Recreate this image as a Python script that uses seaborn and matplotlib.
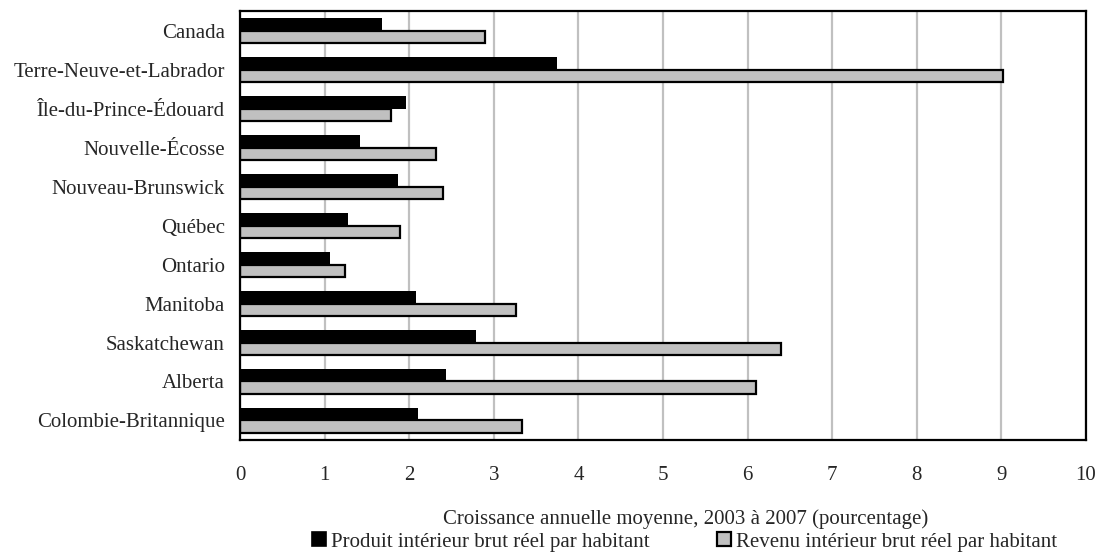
import matplotlib
matplotlib.use("Agg")
import matplotlib.pyplot as plt
import seaborn as sns
import pandas as pd
from matplotlib.patches import Patch

regions = ["Canada", "Terre-Neuve-et-Labrador", "Île-du-Prince-Édouard", "Nouvelle-Écosse",
           "Nouveau-Brunswick", "Québec", "Ontario", "Manitoba", "Saskatchewan", "Alberta",
           "Colombie-Britannique"]
pib = [1.68, 3.75, 1.96, 1.42, 1.87, 1.28, 1.06, 2.08, 2.79, 2.43, 2.10]
rib = [2.90, 9.02, 1.78, 2.32, 2.40, 1.89, 1.24, 3.26, 6.39, 6.10, 3.33]
series = ["Produit intérieur brut réel par habitant", "Revenu intérieur brut réel par habitant"]
xlabel = "Croissance annuelle moyenne, 2003 à 2007 (pourcentage)"
xticks = list(range(0, 11))

df = pd.DataFrame({
    "region": regions * 2,
    "value": pib + rib,
    "serie": [series[0]] * len(regions) + [series[1]] * len(regions),
})

sns.set_style("white")
plt.rcParams["font.family"] = ["Liberation Serif", "DejaVu Serif"]
plt.rcParams["font.size"] = 15

fig = plt.figure(figsize=(10.97, 5.54), dpi=100)
ax = fig.add_axes([0.2188, 0.2058, 0.7712, 0.7742])

colors = ["#000000", "#c0c0c0"]
sns.barplot(data=df, y="region", x="value", hue="serie", order=regions, hue_order=series,
            palette=colors, orient="h", width=0.62, ax=ax, legend=False, saturation=1)

n = len(regions)
for i, p in enumerate(ax.patches[:2 * n]):
    p.set_edgecolor("black")
    p.set_linewidth(0 if i < n else 1.6)

ax.set_xlim(0, 10)
ax.set_xticks(xticks)
ax.set_xticklabels([str(t) for t in xticks])
ax.set_ylim(n - 0.5, -0.5)
ax.set_ylabel("")
ax.set_xlabel(xlabel, labelpad=17)
ax.xaxis.label.set_x(0.527)
ax.xaxis.grid(True, color="#c0c0c0", linewidth=1.6)
ax.set_axisbelow(True)
for s in ax.spines.values():
    s.set_visible(True)
    s.set_color("black")
    s.set_linewidth(1.6)
ax.tick_params(axis="x", length=0, pad=19)
ax.tick_params(axis="y", length=0, pad=11)

handles = [Patch(facecolor=colors[0], edgecolor="black", linewidth=1.2),
           Patch(facecolor=colors[1], edgecolor="black", linewidth=1.6)]
fig.legend(handles, series, loc="center", bbox_to_anchor=(0.624, 1 - 542 / 554), ncol=2,
           frameon=False, handlelength=0.67, handleheight=0.67, handletextpad=0.25,
           columnspacing=3.2, borderpad=0, borderaxespad=0)

fig.savefig("out.png", dpi=100)
